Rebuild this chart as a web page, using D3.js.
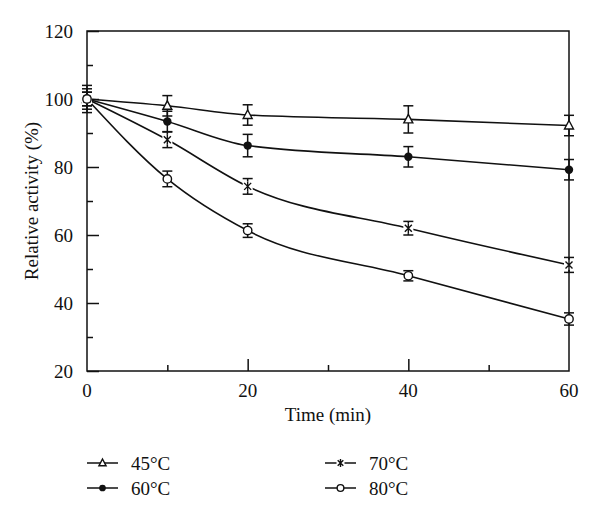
<!DOCTYPE html>
<html><head><meta charset="utf-8">
<script src="https://cdn.jsdelivr.net/npm/d3@7/dist/d3.min.js"></script>
<style>body{margin:0;background:#fff}svg{display:block}text{font-family:"Liberation Serif","Times New Roman",serif;fill:#111}</style>
</head><body><svg id="c" width="600" height="517"></svg>
<script>
const times = [0, 10, 20, 40, 60];
const seriesNames = ["45°C", "60°C", "70°C", "80°C"];
const s45 = [100, 98, 95.3, 94, 92.2];
const s60 = [100, 93.4, 86.3, 83, 79.2];
const s70 = [100, 88, 74.3, 62, 51.2];
const s80 = [100, 76.5, 61.3, 48, 35.3];
const e45 = [4, 3, 3, 4, 3];
const e60 = [3, 3, 3.3, 3, 3];
const e70 = [2, 2.3, 2.3, 2, 2.2];
const e80 = [2, 2.3, 2, 1.5, 1.8];
const xTicks = [0, 20, 40, 60];
const yTicks = [20, 40, 60, 80, 100, 120];
const markers = ["triangle", "filled", "cross", "open"];

const svg = d3.select("#c");
const x = d3.scaleLinear().domain([0, 60]).range([87, 569]);
const y = d3.scaleLinear().domain([20, 120]).range([371, 31]);
const ink = "#111";

const series = [s45, s60, s70, s80].map((v, i) => ({
  name: seriesNames[i], marker: markers[i],
  pts: times.map((t, j) => ({t, v: v[j], e: [e45, e60, e70, e80][i][j]}))
}));

svg.append("rect").attr("x", x(0)).attr("y", y(120)).attr("width", x(60) - x(0)).attr("height", y(20) - y(120))
  .attr("fill", "none").attr("stroke", ink).attr("stroke-width", 1.5);

const yAx = svg.append("g").attr("transform", `translate(${x(0)},0)`)
  .call(d3.axisRight(y).tickValues(yTicks).tickSize(12).tickFormat(""));
yAx.select(".domain").remove();
yAx.selectAll("line").attr("stroke", ink).attr("stroke-width", 1.5);
svg.append("g").attr("transform", `translate(${x(0)},0)`)
  .call(d3.axisRight(y).tickValues([30, 50, 70, 90, 110]).tickSize(6).tickFormat(""))
  .call(g => g.select(".domain").remove())
  .selectAll("line").attr("stroke", ink).attr("stroke-width", 1.5);
svg.append("g").selectAll("text").data(yTicks).join("text")
  .attr("x", 73).attr("y", d => y(d)).attr("dy", "0.35em").attr("text-anchor", "end")
  .attr("font-size", 19).text(d => d);

const xAx = svg.append("g").attr("transform", `translate(0,${y(20)})`)
  .call(d3.axisTop(x).tickValues([20, 40]).tickSize(12).tickFormat(""));
xAx.select(".domain").remove();
xAx.selectAll("line").attr("stroke", ink).attr("stroke-width", 1.5);
svg.append("g").attr("transform", `translate(0,${y(20)})`)
  .call(d3.axisTop(x).tickValues([10, 30, 50]).tickSize(6).tickFormat(""))
  .call(g => g.select(".domain").remove())
  .selectAll("line").attr("stroke", ink).attr("stroke-width", 1.5);
svg.append("g").selectAll("text").data(xTicks).join("text")
  .attr("x", d => x(d)).attr("y", 390).attr("dy", "0.35em").attr("text-anchor", "middle")
  .attr("font-size", 19).text(d => d);

svg.append("text").attr("x", 328).attr("y", 421).attr("text-anchor", "middle").attr("font-size", 19).text("Time (min)");
svg.append("text").attr("transform", `translate(38,${(y(20) + y(120)) / 2}) rotate(-90)`)
  .attr("text-anchor", "middle").attr("font-size", 19).text("Relative activity (%)");

const line = d3.line().x(d => x(d.t)).y(d => y(d.v)).curve(d3.curveMonotoneX);
series.forEach(s => {
  svg.append("path").datum(s.pts).attr("d", line).attr("fill", "none").attr("stroke", ink).attr("stroke-width", 1.6);
});

series.forEach(s => {
  const g = svg.append("g").attr("stroke", ink).attr("stroke-width", 1.5);
  s.pts.forEach(p => {
    const cx = x(p.t), y1 = y(p.v + p.e), y2 = y(p.v - p.e);
    g.append("line").attr("x1", cx).attr("x2", cx).attr("y1", y1).attr("y2", y2);
    g.append("line").attr("x1", cx - 5).attr("x2", cx + 5).attr("y1", y1).attr("y2", y1);
    g.append("line").attr("x1", cx - 5).attr("x2", cx + 5).attr("y1", y2).attr("y2", y2);
  });
});

function drawMarker(g, type, cx, cy, k) {
  k = k || 1;
  if (type === "triangle") {
    g.append("path").attr("d", `M${cx},${cy - 5 * k}L${cx + 4.5 * k},${cy + 3.5 * k}L${cx - 4.5 * k},${cy + 3.5 * k}Z`)
      .attr("fill", "#fff").attr("stroke", ink).attr("stroke-width", 1.4);
  } else if (type === "filled") {
    g.append("circle").attr("cx", cx).attr("cy", cy).attr("r", 4.2 * k).attr("fill", ink);
  } else if (type === "open") {
    g.append("circle").attr("cx", cx).attr("cy", cy).attr("r", 4.2 * k).attr("fill", "#fff").attr("stroke", ink).attr("stroke-width", 1.4);
  } else {
    g.append("rect").attr("x", cx - 5 * k).attr("y", cy - 5 * k).attr("width", 10 * k).attr("height", 10 * k).attr("fill", "#fff");
    g.append("path").attr("d", `M${cx - 3.5 * k},${cy - 3.5 * k}L${cx + 3.5 * k},${cy + 3.5 * k}M${cx + 3.5 * k},${cy - 3.5 * k}L${cx - 3.5 * k},${cy + 3.5 * k}M${cx},${cy - 5 * k}L${cx},${cy + 5 * k}`)
      .attr("stroke", ink).attr("stroke-width", 1.4);
  }
}
series.forEach(s => {
  const g = svg.append("g");
  s.pts.forEach(p => drawMarker(g, s.marker, x(p.t), y(p.v)));
});

const legPos = [[87, 463], [87, 488], [325, 463], [325, 488]];
series.forEach((s, i) => {
  const [lx, ly] = legPos[i];
  const g = svg.append("g");
  g.append("line").attr("x1", lx).attr("x2", lx + 31).attr("y1", ly).attr("y2", ly).attr("stroke", ink).attr("stroke-width", 1.5);
  drawMarker(g, s.marker, lx + 15.5, ly, 0.8);
  g.append("text").attr("x", lx + 44).attr("y", ly).attr("dy", "0.35em").attr("font-size", 19).text(s.name);
});
</script></body></html>
